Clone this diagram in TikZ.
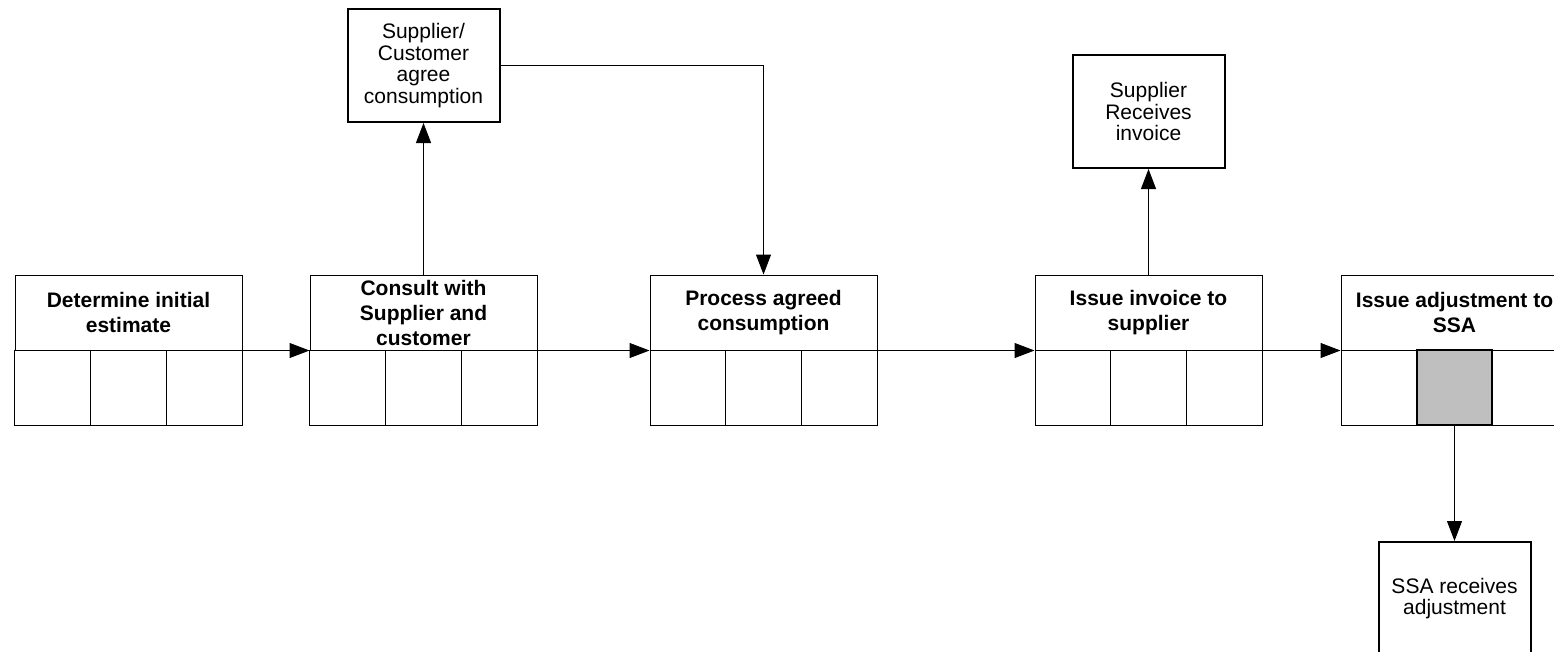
\documentclass[tikz,border=0pt]{standalone}
\usepackage{fontspec}
\setmainfont{Liberation Sans}
\usetikzlibrary{positioning, arrows.meta}

\begin{document}
\begin{tikzpicture}[x=1pt, y=-1pt,
  stage/.style={draw, line width=1pt, minimum width=227pt, minimum height=75pt, inner sep=1pt, align=center, font=\fontsize{21}{25}\selectfont\bfseries},
  cell/.style={draw, line width=1pt, minimum width=75.67pt, minimum height=75pt, inner sep=0pt},
  party/.style={draw, line width=2pt, minimum width=152pt, minimum height=113pt, inner sep=1pt, align=center, font=\fontsize{21}{21.5}\selectfont},
  flow/.style={-{Triangle[length=20pt, width=15pt]}, line width=1pt}
]
  \useasboundingbox (0,0) rectangle (1554,651);

  % process stages
  \node[stage] (det) at (128.5,312.5) {Determine initial\\estimate};
  \node[stage] (con) at (423.5,312.5) {Consult with\\Supplier and\\customer};
  \node[stage] (proc) at (763.5,312.5) {Process agreed\\consumption};
  \node[stage] (inv) at (1148.5,312.5) {Issue invoice to\\supplier};
  \node[stage] (adj) at (1454.5,312.5) {Issue adjustment to\\SSA};

  % cells under each stage
  \foreach \n/\x in {det/128.5, con/423.5, proc/763.5, inv/1148.5}
    \foreach \i/\dx in {1/-75.67, 2/0, 3/75.67}
      \node[cell] (\n\i) at (\x+\dx,387.5) {};
  \node[cell] (adj1) at (1378.83,387.5) {};
  \node[cell] (adj3) at (1530.17,387.5) {};
  \node[cell, fill=gray!50, line width=2pt] (adj2) at (1454.5,387.5) {};

  % outside parties
  \node[party] (sca) at (423.5,65.5) {Supplier/\\Customer\\agree\\consumption};
  \node[party] (sri) at (1148.5,111.5) {Supplier\\Receives\\invoice};
  \node[party] (ssa) at (1454.5,598.5) {SSA receives\\adjustment};

  % connectors
  \draw[flow] (det.south east) -- (con.south west);
  \draw[flow] (con.south east) -- (proc.south west);
  \draw[flow] (proc.south east) -- (inv.south west);
  \draw[flow] (inv.south east) -- (adj.south west);
  \draw[flow] (con.north) -- (sca.south);
  \draw[flow] (sca.east) -| (proc.north);
  \draw[flow] (inv.north) -- (sri.south);
  \draw[flow] (adj2.south) -- (ssa.north);
\end{tikzpicture}
\end{document}
